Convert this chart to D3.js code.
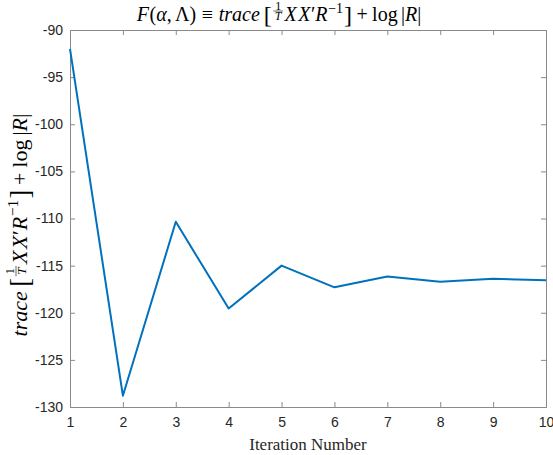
<!DOCTYPE html>
<html>
<head>
<meta charset="utf-8">
<script src="https://cdn.jsdelivr.net/npm/d3@7"></script>
<style>
  html, body { margin: 0; padding: 0; background: #fff; }
  svg { display: block; }
</style>
</head>
<body>
<svg id="chart" width="553" height="455"></svg>
<script>
const iterations = [1, 2, 3, 4, 5, 6, 7, 8, 9, 10];
const objective = [-92.0, -128.8, -110.35, -119.55, -115.0, -117.3, -116.15, -116.7, -116.4, -116.55];
const xTicks = [1, 2, 3, 4, 5, 6, 7, 8, 9, 10];
const yTicks = [-90, -95, -100, -105, -110, -115, -120, -125, -130];
const xLabelText = "Iteration Number";

const svg = d3.select("#chart");
const margin = {left: 70, right: 7, top: 30, bottom: 48};
const W = 553, H = 455;
const x0 = margin.left, x1 = W - margin.right, y0 = margin.top, y1 = H - margin.bottom;

const x = d3.scaleLinear().domain([1, 10]).range([x0, x1]);
const y = d3.scaleLinear().domain([-130, -90]).range([y1, y0]);

const axisColor = "#262626";
const lineAxisColor = "#8a8a8a";
const sans = "'Liberation Sans', Arial, Helvetica, sans-serif";
const serif = "'Liberation Serif', 'Times New Roman', serif";

// Axes (bottom, left, top, right) with inward ticks
const tickLen = 5;
const gx = svg.append("g").attr("transform", `translate(0,${y1})`)
  .call(d3.axisBottom(x).tickValues(xTicks).tickSize(-tickLen).tickPadding(10).tickFormat(d3.format("d")));
const gy = svg.append("g").attr("transform", `translate(${x0},0)`)
  .call(d3.axisLeft(y).tickValues(yTicks).tickSize(-tickLen).tickPadding(7).tickFormat(d => d3.format("d")(d).replace("−", "-")));
const gt = svg.append("g").attr("transform", `translate(0,${y0})`)
  .call(d3.axisTop(x).tickValues(xTicks).tickSize(-tickLen).tickFormat(""));
const gr = svg.append("g").attr("transform", `translate(${x1},0)`)
  .call(d3.axisRight(y).tickValues(yTicks).tickSize(-tickLen).tickFormat(""));

[gx, gy, gt, gr].forEach(g => {
  g.select(".domain").attr("stroke", lineAxisColor).attr("stroke-width", 1);
  g.selectAll(".tick line").attr("stroke", lineAxisColor).attr("stroke-width", 1);
  g.selectAll(".tick text").attr("fill", axisColor).attr("font-family", sans).attr("font-size", 14);
});

// Line
const line = d3.line().x((d, i) => x(iterations[i])).y(d => y(d));
svg.append("path").datum(objective)
  .attr("fill", "none").attr("stroke", "#0072BD").attr("stroke-width", 2)
  .attr("stroke-linejoin", "round")
  .attr("d", line);

// Math-like text renderer
function renderMath(g, items, size) {
  let cx = 0;
  items.forEach(it => {
    if (it.gap) { cx += it.gap * size; return; }
    if (it.frac) {
      const fs = size * 0.6;
      const ft = g.append("text").attr("font-family", serif).attr("font-size", fs).attr("fill", "#000");
      const num = ft.append("tspan").text(it.num);
      const den = ft.append("tspan").attr("font-style", "italic").text(it.den);
      const nw = num.node().getComputedTextLength();
      const dw = den.node().getComputedTextLength();
      const w = Math.max(nw, dw) + size * 0.14;
      num.attr("x", cx + (w - nw) / 2).attr("y", -size * 0.57);
      den.attr("x", cx + (w - dw) / 2).attr("y", -size * 0.04);
      g.append("line").attr("x1", cx).attr("x2", cx + w)
        .attr("y1", -size * 0.5).attr("y2", -size * 0.5)
        .attr("stroke", "#000").attr("stroke-width", 0.6);
      cx += w + size * 0.08;
      return;
    }
    const t = g.append("text")
      .attr("x", cx).attr("y", (it.dy || 0) * size)
      .attr("font-family", serif)
      .attr("font-size", size * (it.s || 1))
      .attr("font-style", it.i ? "italic" : "normal")
      .attr("fill", "#000")
      .text(it.t);
    cx += t.node().getComputedTextLength() + (it.after || 0) * size;
  });
  return cx;
}

const bodyItems = [
  {t: "trace", i: true}, {gap: 0.2},
  {t: "[", s: 1.2, dy: 0.08}, {gap: 0.08},
  {frac: true, num: "1", den: "T"},
  {t: "X", i: true, after: 0.08}, {t: "X", i: true, after: 0.02}, {t: "′"},
  {t: "R", i: true, after: 0.03}, {t: "−1", s: 0.7, dy: -0.42}, {gap: 0.05},
  {t: "]", s: 1.2, dy: 0.08}, {gap: 0.22},
  {t: "+"}, {gap: 0.22},
  {t: "log"}, {gap: 0.17},
  {t: "|"}, {t: "R", i: true}, {t: "|"}
];
const titleItems = [
  {t: "F", i: true, after: 0.03}, {t: "("}, {t: "α", i: true}, {t: ","}, {gap: 0.17},
  {t: "Λ"}, {t: ")"}, {gap: 0.28}, {t: "≡"}, {gap: 0.28}
].concat(bodyItems);

// Title
const tg = svg.append("g");
const tw = renderMath(tg, titleItems, 20);
tg.attr("transform", `translate(${279 - tw / 2},21)`);

// Y label (rotated)
const yg = svg.append("g");
const yw = renderMath(yg, bodyItems, 22);
yg.attr("transform", `translate(27,${225 + yw / 2}) rotate(-90)`);

// X label
svg.append("text")
  .attr("x", (x0 + x1) / 2).attr("y", 450)
  .attr("text-anchor", "middle")
  .attr("font-family", serif).attr("font-size", 17)
  .attr("fill", axisColor)
  .text(xLabelText);
</script>
</body>
</html>
